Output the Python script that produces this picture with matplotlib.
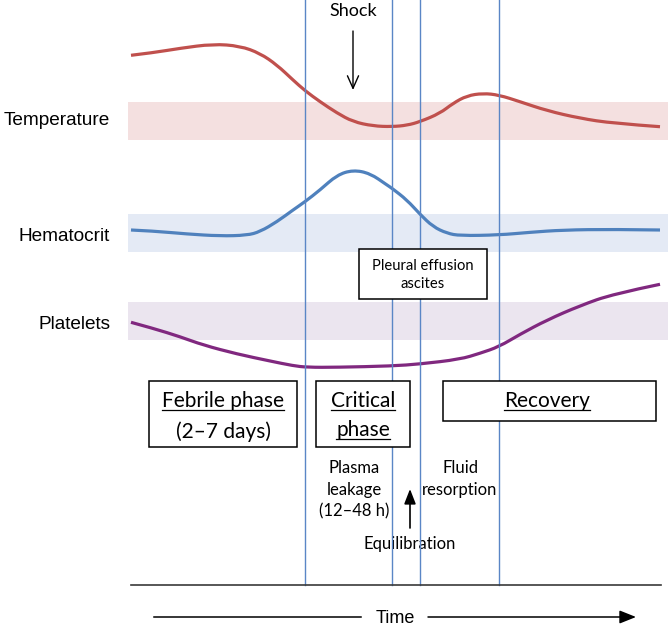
import numpy as np
import matplotlib
matplotlib.use("Agg")
import matplotlib.pyplot as plt
from matplotlib.patches import Rectangle, FancyArrowPatch, PathPatch
from matplotlib.path import Path

# schematic curves (x, y in picture pixels, y downwards)
temp_x = [131, 153, 180, 213, 240, 260, 277, 293, 305, 320, 337, 353, 373, 392,
          407, 420, 440, 453, 467, 483, 499, 520, 547, 580, 613, 660]
temp_y = [55.3, 52.7, 48.3, 44, 46, 53.3, 65, 80, 90.7, 101.7, 113, 121.7, 126,
          126.7, 125.3, 121.7, 113.3, 103.3, 95.7, 93.3, 95, 101.7, 110.7, 118.3,
          123.3, 126.7]

hct_x = [131, 153, 187, 220, 247, 260, 277, 293, 305, 320, 337, 353, 370, 387,
         392, 407, 420, 433, 447, 460, 499, 530, 563, 613, 660]
hct_y = [230, 231, 234, 236, 235.3, 231.7, 221.7, 210, 201.7, 190, 175, 170,
         173.3, 185, 188.3, 200, 214.3, 226.7, 233.3, 235.7, 235, 232.3, 230,
         229.3, 230]

plt_x = [131, 153, 180, 203, 237, 270, 293, 307, 337, 392, 420, 460, 480, 499,
         520, 547, 580, 613, 660]
plt_y = [322.3, 328.3, 336.7, 345, 354, 361, 365.7, 367.3, 367.3, 366, 364,
         359.3, 353.3, 346.7, 334.3, 320, 305.7, 294, 284.3]

row_labels = ["Temperature", "Hematocrit", "Platelets"]
row_bands = [(102, 140), (214, 252), (302, 340)]
phase_lines = [305, 392, 420, 499]

CAL = ["Lato", "DejaVu Sans"]
ARIAL = ["Liberation Sans", "DejaVu Sans"]


def smooth_curve(ax, xs, ys, color):
    # quadratic bezier through midpoints, the read points act as controls
    pts = list(zip(xs, ys))
    verts = [pts[0]]
    codes = [Path.MOVETO]
    for i in range(1, len(pts) - 1):
        mid = ((pts[i][0] + pts[i + 1][0]) / 2, (pts[i][1] + pts[i + 1][1]) / 2)
        if i == len(pts) - 2:
            mid = pts[-1]
        verts += [pts[i], mid]
        codes += [Path.CURVE3, Path.CURVE3]
    ax.add_patch(PathPatch(Path(verts, codes), fill=False, edgecolor=color,
                           lw=2.3, capstyle="butt", joinstyle="round", zorder=3))


fig = plt.figure(figsize=(6.68, 6.34), dpi=100)
ax = fig.add_axes([0, 0, 1, 1])
ax.set_xlim(0, 668)
ax.set_ylim(634, 0)
ax.axis("off")

# normal-range bands
band_cols = ["#f4e0e0", "#e4eaf5", "#ebe5ef"]
for (y0, y1), c in zip(row_bands, band_cols):
    ax.add_patch(Rectangle((128, y0), 540, y1 - y0, color=c, lw=0, zorder=1))

# row labels
label_base = [125, 241, 329]
for lab, yb in zip(row_labels, label_base):
    ax.text(110, yb, lab, ha="right", va="baseline", fontsize=13.7,
            family=ARIAL, color="black")

# curves
smooth_curve(ax, temp_x, temp_y, "#c0504d")
smooth_curve(ax, hct_x, hct_y, "#4f81bd")
smooth_curve(ax, plt_x, plt_y, "#80287f")

# phase separators and baseline
for x in phase_lines:
    ax.plot([x, x], [0, 585], color="#5a86c6", lw=1.0, zorder=4)
ax.plot([131, 661], [585, 585], color="#3a3a3a", lw=1.2, zorder=4)

# boxes (white fill hides the separators)
boxes = [(149, 381, 148, 66), (316, 381, 94, 66), (443, 381, 213, 40),
         (359, 249, 128, 50)]
for (x, y, w, h) in boxes:
    ax.add_patch(Rectangle((x, y), w, h, facecolor="white", edgecolor="black",
                           lw=1.1, zorder=5))

underlined = []
t = ax.text(223, 407, "Febrile phase", ha="center", va="baseline",
            fontsize=15, family=CAL, zorder=6)
underlined.append((t, 407))
ax.text(223, 438, "(2\u20137 days)", ha="center", va="baseline",
        fontsize=15, family=CAL, zorder=6)
t = ax.text(363, 407, "Critical", ha="center", va="baseline",
            fontsize=15, family=CAL, zorder=6)
underlined.append((t, 407))
t = ax.text(363, 436, "phase", ha="center", va="baseline",
            fontsize=15, family=CAL, zorder=6)
underlined.append((t, 436))
t = ax.text(547, 407, "Recovery", ha="center", va="baseline",
            fontsize=15, family=CAL, zorder=6)
underlined.append((t, 407))

ax.text(423, 270, "Pleural effusion", ha="center", va="baseline",
        fontsize=10.6, family=CAL, zorder=6)
ax.text(423, 288, "ascites", ha="center", va="baseline",
        fontsize=10.6, family=CAL, zorder=6)

# annotations
ax.text(353.5, 16, "Shock", ha="center", va="baseline", fontsize=13,
        family=CAL)
ax.add_patch(FancyArrowPatch((353, 31), (353, 90),
                             arrowstyle="->,head_length=0.9,head_width=0.4",
                             mutation_scale=10, lw=1.0, color="black",
                             shrinkA=0, shrinkB=0, zorder=6))

for i, s in enumerate(["Plasma", "leakage", "(12\u201348 h)"]):
    ax.text(354, 473 + 21.7 * i, s, ha="center", va="baseline", fontsize=12,
            family=CAL)
for i, s in enumerate(["Fluid", "resorption"]):
    ax.text(460, 473 + 21.7 * i, s, ha="center", va="baseline", fontsize=12,
            family=CAL)
ax.add_patch(FancyArrowPatch((410, 528), (410, 489),
                             arrowstyle="-|>,head_length=0.9,head_width=0.35",
                             mutation_scale=10, lw=1.2, color="black",
                             shrinkA=0, shrinkB=0, zorder=6))
ax.text(410, 549, "Equilibration", ha="center", va="baseline", fontsize=12,
        family=CAL)

# time axis arrow
ax.plot([154, 361], [617, 617], color="black", lw=1.1)
ax.add_patch(FancyArrowPatch((428, 617), (636, 617),
                             arrowstyle="-|>,head_length=1.0,head_width=0.4",
                             mutation_scale=10, lw=1.1, color="black",
                             shrinkA=0, shrinkB=0))
ax.text(395, 623, "Time", ha="center", va="baseline", fontsize=13,
        family=ARIAL)

# underline the phase titles
fig.canvas.draw()
r = fig.canvas.get_renderer()
inv = ax.transData.inverted()
for t, yb in underlined:
    bb = t.get_window_extent(r)
    (x0, _), (x1, _) = inv.transform([(bb.x0, bb.y0), (bb.x1, bb.y0)])
    ax.plot([x0, x1], [yb + 3.2, yb + 3.2], color="black", lw=0.9, zorder=6)

fig.savefig("out.png", dpi=100)
